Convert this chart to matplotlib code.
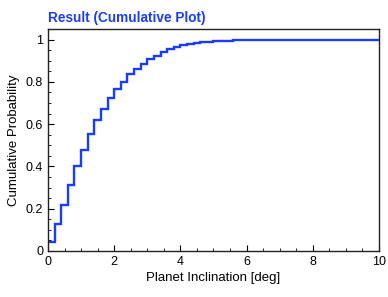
import numpy as np
import matplotlib.pyplot as plt
from matplotlib.ticker import MultipleLocator, FormatStrFormatter

plt.rcParams['font.family'] = ['Liberation Sans', 'DejaVu Sans']

# cumulative probability per 0.2 deg bin
bin_edges = np.arange(0, 10.01, 0.2)
cum_prob = [0.044, 0.128, 0.218, 0.313, 0.403, 0.479, 0.553, 0.618, 0.673, 0.722,
            0.764, 0.801, 0.835, 0.862, 0.885, 0.906, 0.924, 0.940, 0.953, 0.963,
            0.972, 0.978, 0.983, 0.987, 0.990, 0.992, 0.994, 0.995, 0.996, 0.997,
            0.998, 0.9985, 0.999, 0.999, 0.9993, 0.9995, 0.9996, 0.9997, 0.9998, 0.9998,
            0.9999, 0.9999, 0.9999, 1.0, 1.0, 1.0, 1.0, 1.0, 1.0, 1.0]

blue = '#1a3cff'

fig = plt.figure(figsize=(3.88, 2.97), dpi=100)
ax = fig.add_axes([0.1237, 0.1549, 0.8531, 0.7475])

ax.stairs(cum_prob, bin_edges, color=blue, linewidth=1.7, baseline=None)

ax.set_xlim(0, 10)
ax.set_ylim(0, 1.05)
ax.xaxis.set_major_locator(MultipleLocator(2))
ax.xaxis.set_minor_locator(MultipleLocator(0.5))
ax.yaxis.set_major_locator(MultipleLocator(0.2))
ax.yaxis.set_minor_locator(MultipleLocator(0.05))
ax.yaxis.set_major_formatter(FormatStrFormatter('%g'))
ax.tick_params(which='both', direction='in', top=False, right=False, labelsize=9)
ax.tick_params(which='major', length=4, width=0.8)
ax.tick_params(which='minor', length=2, width=0.6)
for s in ax.spines.values():
    s.set_color('#222222')
    s.set_linewidth(1.0)

ax.set_xlabel('Planet Inclination [deg]', fontsize=9.5, labelpad=3)
ax.set_ylabel('Cumulative Probability', fontsize=9.5, labelpad=4)
ax.set_title('Result (Cumulative Plot)', loc='left', color=blue,
             fontsize=9.8, fontweight='bold', pad=5)

fig.savefig('out.png', dpi=100)
